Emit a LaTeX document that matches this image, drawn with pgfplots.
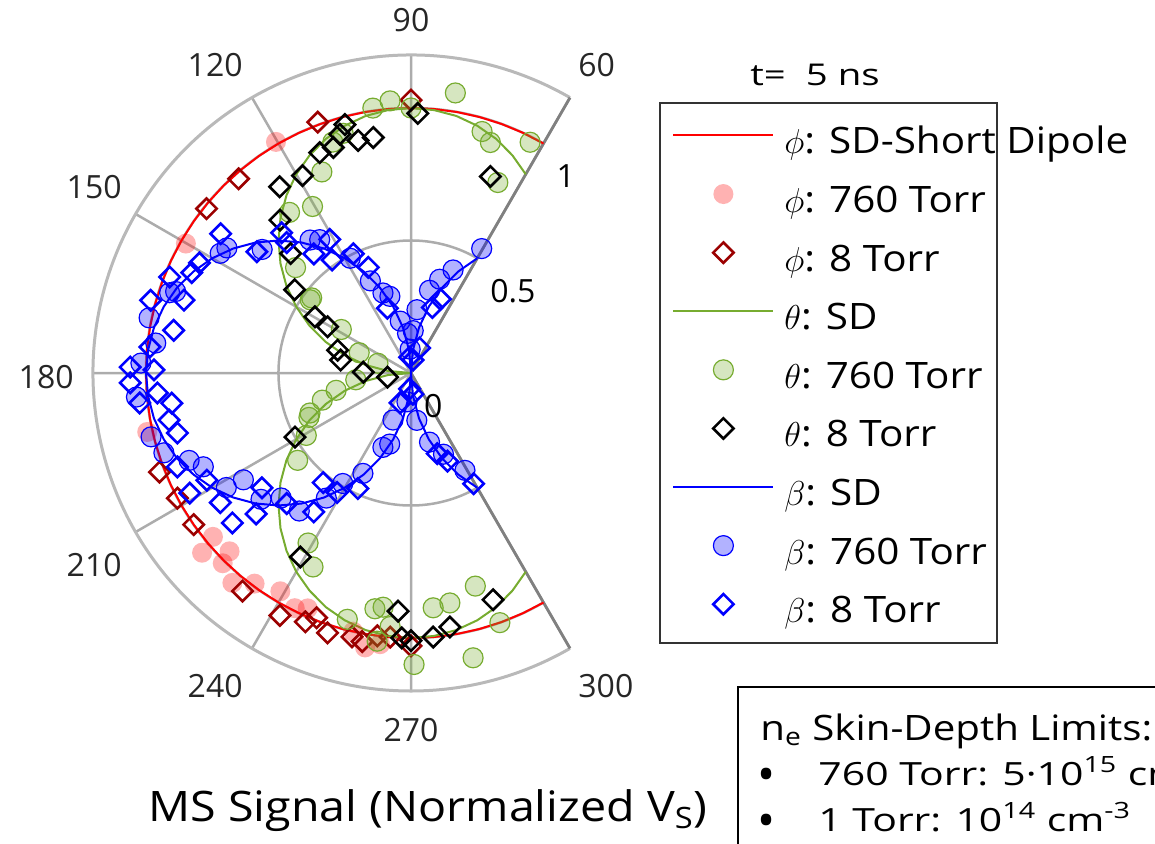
\documentclass[border=0pt]{standalone}
\usepackage{fontspec}
\setmainfont{Open Sans}
\newfontfamily\fa[FakeStretch=1.11]{Open Sans}
\newfontfamily\fb[FakeStretch=1.28]{Open Sans}
\newfontfamily\fc[FakeStretch=1.15]{Open Sans}
\newfontfamily\fd[FakeStretch=1.11]{Open Sans}
\usepackage{pgfplots}
\usepackage{pgfplotstable}
\pgfplotsset{compat=1.18}
\usepgfplotslibrary{polar}
\definecolor{mgreen}{RGB}{119,172,48}
\definecolor{dred}{RGB}{155,0,0}
\newcommand\ls{\rule[-6pt]{0pt}{21pt}}

\pgfplotstableread{
ang phi theta beta
60 1 0.866 0.5
65 1 0.906 0.423
70 1 0.940 0.342
75 1 0.966 0.259
80 1 0.985 0.174
85 1 0.996 0.087
90 1 1 0
95 1 0.996 0.087
100 1 0.985 0.174
105 1 0.966 0.259
110 1 0.940 0.342
115 1 0.906 0.423
120 1 0.866 0.5
125 1 0.819 0.574
130 1 0.766 0.643
135 1 0.707 0.707
140 1 0.643 0.766
145 1 0.574 0.819
150 1 0.5 0.866
155 1 0.423 0.906
160 1 0.342 0.940
165 1 0.259 0.966
170 1 0.174 0.985
175 1 0.087 0.996
180 1 0 1
185 1 0.087 0.996
190 1 0.174 0.985
195 1 0.259 0.966
200 1 0.342 0.940
205 1 0.423 0.906
210 1 0.5 0.866
215 1 0.574 0.819
220 1 0.643 0.766
225 1 0.707 0.707
230 1 0.766 0.643
235 1 0.819 0.574
240 1 0.866 0.5
245 1 0.906 0.423
250 1 0.940 0.342
255 1 0.966 0.259
260 1 0.985 0.174
265 1 0.996 0.087
270 1 1 0
275 1 0.996 0.087
280 1 0.985 0.174
285 1 0.966 0.259
290 1 0.940 0.342
295 1 0.906 0.423
300 1 0.866 0.5
}\sdtable

\begin{document}
\begin{tikzpicture}
\begin{polaraxis}[
  scale only axis, width=318pt, height=318pt,
  xmin=60, xmax=300, ymin=0, ymax=1.2,
  xtick={60,90,...,300}, ytick={0,0.5,1}, yticklabels={}, xticklabels={},
  grid=major, major grid style={gray!65, line width=1.25pt},
  x axis line style={gray!55, line width=1.5pt},
  y axis line style={gray, line width=1.4pt},
  major tick length=0pt,
  clip=false,
  legend cell align=left,
  legend style={draw=none, fill=none, at={(axis cs:44.22,1.3743)}, anchor=north west,
    inner sep=0pt, row sep=8.3pt, column sep=5pt,
    font=\fa\fontsize{18.2}{22}\selectfont,
    nodes={inner sep=0pt}},
  legend image code/.code={\path[draw=none, fill=none] (0pt,-10.5pt) rectangle (50pt,10.5pt);
    \draw[mark repeat=2,mark phase=2,#1] plot coordinates {(0pt,2.5pt) (25pt,2.5pt) (50pt,2.5pt)};},
]
\coordinate (O) at (axis cs:0,0);
% phi
\addplot[red, line width=1pt, no markers] table[x=ang, y=phi] {\sdtable};
\addlegendentry{\ls$\phi$: SD-Short\rlap{~Dipole}}
\addplot[only marks, color=red, mark=*, mark size=5pt, mark options={draw=none, draw opacity=0, fill=red, fill opacity=0.3}] coordinates {
(120.3,1.01) (150.1,0.98) (192.6,1.02) (219.6,0.97) (220.7,1.04) (224.5,0.96) (225.3,1.01) (229.6,1.04) (233.4,0.99) (239.1,0.96) (243.7,0.99) (246.3,0.97) (257.4,1.0) (260.5,1.05) (263.5,1.03)};
\addlegendentry{\ls$\phi$: 760 Torr}
\addplot[only marks, color=dred, mark=square, mark size=3.6pt, mark options={rotate=45, draw=dred, line width=1.3pt}] coordinates {
(90,1.03) (110.4,1.01) (131.6,0.98) (141.2,0.99) (201.5,1.02) (208.2,1.0) (214.9,1.0) (232.3,1.04) (241.6,1.04) (247,1.02) (248.9,0.99) (252.2,1.03) (257.4,1.02) (259.7,1.03) (262.7,1.0) (265.5,1.0) (270,1.03)};
\addlegendentry{\ls$\phi$: 8 Torr}
% theta
\addplot[mgreen, line width=1pt, no markers] table[x=ang, y=theta] {\sdtable};
\addlegendentry{\ls$\theta$: SD}
\addplot[only marks, color=mgreen, mark=*, mark size=5pt, mark options={draw=mgreen, fill=mgreen, fill opacity=0.3, line width=0.6pt}] coordinates {
(62.7,0.98) (65.5,0.79) (71,0.92) (73.6,0.95) (81,1.07) (90,1.0) (94.4,1.03) (98.2,1.01) (105.8,0.94) (108.7,0.92) (113.9,0.83) (120.6,0.73) (127.1,0.76) (137.6,0.59) (142.9,0.47) (144,0.47) (148,0.31) (158.6,0.21) (163.6,0.13) (187,0.21) (193,0.29) (197,0.35) (201.6,0.41) (203.5,0.42) (210.8,0.46) (217.6,0.54) (238.8,0.75) (243.2,0.82) (255.5,0.96) (261.3,0.90) (263.2,0.89) (262.8,1.02) (265.3,0.96) (270.6,1.10) (275.4,0.89) (279.6,0.88) (282.3,1.10) (286.8,0.84) (289.6,1.0)};
\addlegendentry{\ls$\theta$: 760 Torr}
\addplot[only marks, color=black, mark=square, mark size=3.6pt, mark options={rotate=45, draw=black, line width=1.3pt}] coordinates {
(68,0.80) (88.5,0.98) (99.1,0.90) (102.8,0.90) (104.9,0.97) (106.6,0.94) (109,0.90) (112.5,0.90) (118.8,0.85) (125.2,0.86) (130.6,0.76) (135.2,0.64) (144.4,0.54) (149.7,0.42) (151,0.36) (162.7,0.29) (169.6,0.27) (179,0.18) (190,0.09) (208.9,0.50) (239,0.81) (266.9,0.90) (268,1.0) (270,1.01) (274.8,1.0) (278.7,0.97) (289.9,0.91)};
\addlegendentry{\ls$\theta$: 8 Torr}
% beta
\addplot[blue, line width=1pt, no markers] table[x=ang, y=beta] {\sdtable};
\addlegendentry{\ls$\beta$: SD}
\addplot[only marks, color=blue, mark=*, mark size=5pt, mark options={draw=blue, fill=blue, fill opacity=0.3, line width=0.6pt}] coordinates {
(60.4,0.54) (67.8,0.42) (73,0.37) (77.4,0.32) (84.6,0.24) (87,0.16) (92,0.09) (95,0.15) (101.7,0.20) (105.4,0.30) (109.3,0.32) (113.8,0.38) (117.9,0.49) (124.4,0.61) (127.2,0.63) (140.3,0.73) (145.8,0.84) (147.9,0.85) (160.9,0.94) (161.6,0.96) (168.1,1.01) (173.3,0.97) (177.9,1.02) (185,1.04) (193.8,1.01) (197.9,0.98) (201.5,0.90) (204.3,0.86) (211.8,0.82) (212.5,0.75) (220.1,0.74) (223.9,0.68) (231,0.67) (235.9,0.57) (238.3,0.49) (244.4,0.42) (249.3,0.30) (253.3,0.28) (249,0.19) (262,0.11) (277,0.18) (285,0.27) (291.8,0.33) (299,0.42)};
\addlegendentry{\ls$\beta$: 760 Torr}
\addplot[only marks, color=blue, mark=square, mark size=3.6pt, mark options={rotate=45, draw=blue, line width=1.3pt}] coordinates {
(68.3,0.30) (72,0.26) (71,0.10) (81,0.05) (95,0.06) (110,0.26) (112,0.43) (115.8,0.50) (121.3,0.59) (124.9,0.52) (129.2,0.58) (132.7,0.72) (133.6,0.68) (141.8,0.74) (143.8,0.89) (152.5,0.90) (155.4,0.91) (158.3,0.98) (162.2,0.90) (164.4,1.02) (169.8,0.91) (174.3,0.99) (178.8,1.06) (179.3,0.97) (182,1.06) (184.5,0.96) (186.3,1.03) (187.2,0.91) (191,0.93) (194.4,0.91) (201.9,0.95) (207.7,0.87) (208.5,0.95) (214.2,0.87) (217.6,0.71) (220,0.88) (222.3,0.79) (226.4,0.68) (231.3,0.53) (235,0.64) (238.3,0.53) (245.3,0.48) (250,0.12) (265,0.06) (275,0.08) (288,0.32) (292.5,0.36) (299.5,0.48)};
\addlegendentry{\ls$\beta$: 8 Torr}
% radial labels
\node[anchor=west, xshift=3pt, yshift=-16.5pt, font=\fontsize{16}{19}\selectfont] at (axis cs:60,0) {0};
\node[anchor=west, xshift=3pt, yshift=-16.5pt, font=\fontsize{16}{19}\selectfont] at (axis cs:60,0.5) {0.5};
\node[anchor=west, xshift=3pt, yshift=-16.5pt, font=\fontsize{16}{19}\selectfont] at (axis cs:60,1) {1};
\end{polaraxis}
\pgfresetboundingbox
\path[use as bounding box, shift={(O)}] (-205.5pt,-235pt) rectangle (372pt,186.5pt);
\begin{scope}[shift={(O)}, every node/.style={inner sep=0pt, font=\fontsize{16}{19}\selectfont, text=black!85}]
% angle tick labels
\node[anchor=center] at (0pt,176.5pt) {90};
\node[anchor=center] at (0pt,-178.5pt) {270};
\node[anchor=west] at (83.5pt,154pt) {60};
\node[anchor=west] at (83.5pt,-156.75pt) {300};
\node[anchor=east] at (-84pt,154pt) {120};
\node[anchor=east] at (-84pt,-156.75pt) {240};
\node[anchor=east] at (-144.5pt,93pt) {150};
\node[anchor=east] at (-144.5pt,-96pt) {210};
\node[anchor=east] at (-168.5pt,-2pt) {180};
\end{scope}
\begin{scope}[shift={(O)}]
\draw[black!80, line width=1.35pt] (124.5pt,135pt) rectangle (293pt,-135pt);
\node[anchor=base west, font=\fb\fontsize{15}{18}\selectfont, inner sep=0pt] at (169.5pt,144pt) {t=\ \ 5 ns};
\draw[black, line width=0.8pt] (163.5pt,-300pt) -- (163.5pt,-157pt) -- (420pt,-157pt);
\node[anchor=base west, font=\fc\fontsize{17.5}{21}\selectfont, inner sep=0pt] at (174.5pt,-183.5pt) {n\textsubscript{e} Skin-Depth Limits:};
\node[anchor=base west, font=\fontsize{24}{26}\selectfont, inner sep=0pt] at (173pt,-209pt) {•};
\node[anchor=base west, font=\fb\fontsize{16}{19}\selectfont, inner sep=0pt] at (203.5pt,-206pt) {760 Torr: 5·10\textsuperscript{15} cm\textsuperscript{-3}};
\node[anchor=base west, font=\fontsize{24}{26}\selectfont, inner sep=0pt] at (173pt,-232pt) {•};
\node[anchor=base west, font=\fb\fontsize{16}{19}\selectfont, inner sep=0pt] at (203.5pt,-229pt) {1 Torr: 10\textsuperscript{14} cm\textsuperscript{-3}};
\node[anchor=base west, font=\fd\fontsize{21}{25}\selectfont, inner sep=0pt] at (-131.5pt,-224pt) {MS Signal (Normalized V\textsubscript{S})};
\end{scope}
\end{tikzpicture}
\end{document}
